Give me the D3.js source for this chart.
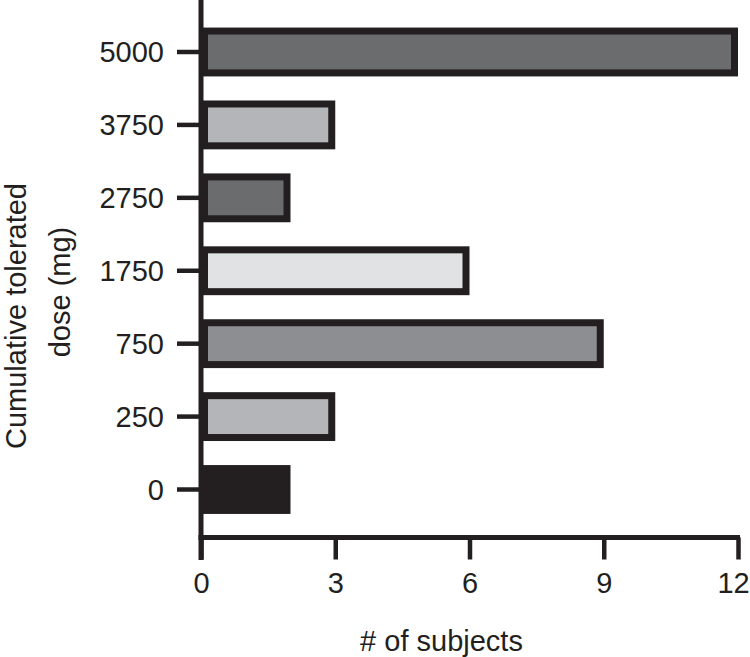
<!DOCTYPE html>
<html>
<head>
<meta charset="utf-8">
<script src="https://cdn.jsdelivr.net/npm/d3@7"></script>
<style>
  html, body { margin: 0; padding: 0; background: #fff; }
  svg text { font-family: "Liberation Sans", Arial, sans-serif; fill: #231f20; }
</style>
</head>
<body>
<svg id="chart" width="750" height="657"></svg>
<script>
// data, bottom to top
const doses = ['0', '250', '750', '1750', '2750', '3750', '5000'];
const subjects = [2, 3, 9, 6, 2, 3, 12];
const fills = ['#231f20', '#b4b5b8', '#8d8e91', '#e1e2e4', '#6b6c6e', '#b4b5b8', '#6b6c6e'];
const xTicks = [0, 3, 6, 9, 12];

const ink = '#231f20';
const svg = d3.select('#chart');

const x = d3.scaleLinear().domain([0, 12]).range([201, 738]);
const y = d3.scaleBand()
    .domain(doses.slice().reverse())
    .range([3.5, 538])
    .padding(0.33);

const rows = doses.map((d, i) => ({ dose: d, n: subjects[i], fill: fills[i] }));

// bars (stroke kept inside the bar extent)
const sw = 7;
svg.append('g').selectAll('rect')
    .data(rows)
    .enter()
    .append('rect')
    .attr('x', x(0) + sw / 2)
    .attr('y', d => y(d.dose) + sw / 2)
    .attr('width', d => x(d.n) - x(0) - sw)
    .attr('height', y.bandwidth() - sw)
    .style('fill', d => d.fill)
    .style('stroke', ink)
    .style('stroke-width', sw);

// y axis
const yAxis = svg.append('g')
    .attr('transform', `translate(${x(0)},0)`)
    .call(d3.axisLeft(y).tickSize(24).tickPadding(13));
yAxis.select('.domain').remove();
yAxis.selectAll('.tick line').style('stroke', ink).style('stroke-width', 4.5);
yAxis.selectAll('.tick text').style('font-size', '29px').attr('dy', '0.36em');

// x axis
const xAxis = svg.append('g')
    .attr('transform', 'translate(0,537.5)')
    .call(d3.axisBottom(x).tickValues(xTicks).tickSize(22).tickPadding(13));
xAxis.select('.domain').remove();
xAxis.selectAll('.tick line').style('stroke', ink).style('stroke-width', 4.5);
xAxis.selectAll('.tick text').style('font-size', '29px').attr('dy', '0.71em')
    .attr('dx', d => d === 12 ? -5 : 0);   // keep "12" inside the frame

// axis lines
svg.append('line')
    .attr('x1', x(0)).attr('x2', x(0))
    .attr('y1', 0).attr('y2', 560)
    .style('stroke', ink).style('stroke-width', 5);
svg.append('line')
    .attr('x1', x(0) - 2.5).attr('x2', x(12) + 2)
    .attr('y1', 537.5).attr('y2', 537.5)
    .style('stroke', ink).style('stroke-width', 5);

// titles
svg.append('text')
    .attr('x', 441.5).attr('y', 651)
    .attr('text-anchor', 'middle')
    .style('font-size', '29px')
    .text('# of subjects');

svg.append('text')
    .attr('transform', 'translate(26,316) rotate(-90)')
    .attr('text-anchor', 'middle')
    .style('font-size', '29px')
    .text('Cumulative tolerated');
svg.append('text')
    .attr('transform', 'translate(70,292) rotate(-90)')
    .attr('text-anchor', 'middle')
    .style('font-size', '29px')
    .text('dose (mg)');
</script>
</body>
</html>
